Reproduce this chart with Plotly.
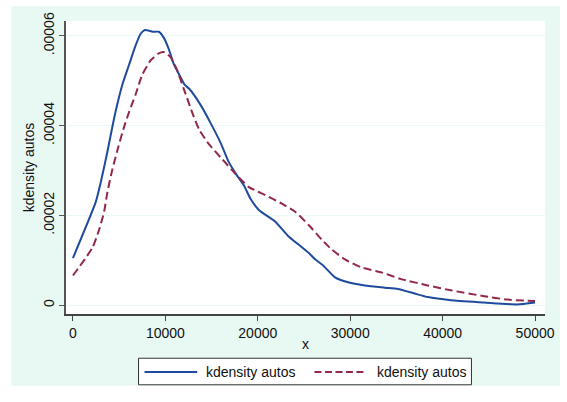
import plotly.graph_objects as go

# Kernel density estimates of autos (two bandwidths)
x_a = [0, 2470, 3010, 3760, 4270, 4620, 5340, 6060, 6770, 7310, 7780, 8640, 9280,
       9820, 10360, 10890, 11430, 12080, 12580, 13840, 14910, 15990, 16880,
       17780, 18490, 19210, 20110, 21900, 23330, 24410, 25480, 26200, 27100,
       28350, 29780, 31580, 33730, 35160, 36950, 38390, 40900, 44480, 48060, 50000]
y_a = [1.05e-5, 2.30e-5, 2.74e-5, 3.45e-5, 3.98e-5, 4.32e-5, 4.91e-5, 5.35e-5, 5.78e-5,
       6.04e-5, 6.13e-5, 6.09e-5, 6.09e-5, 5.96e-5, 5.71e-5, 5.38e-5, 5.16e-5,
       4.91e-5, 4.82e-5, 4.45e-5, 4.05e-5, 3.61e-5, 3.18e-5, 2.88e-5, 2.67e-5,
       2.37e-5, 2.12e-5, 1.86e-5, 1.53e-5, 1.35e-5, 1.17e-5, 1.02e-5, 8.8e-6,
       6.2e-6, 5.1e-6, 4.4e-6, 3.9e-6, 3.6e-6, 2.6e-6, 1.8e-6, 1.1e-6, 6e-7,
       1.5e-7, 6e-7]

x_b = [0, 2110, 2830, 3370, 3730, 4270, 4900, 5500, 6100, 6770, 7490, 8390,
       9280, 9820, 10540, 11260, 11970, 12940, 13660, 14730, 16160, 17600,
       19030, 20830, 22610, 24050, 25480, 26920, 27990, 29430, 31220, 33370,
       35520, 38390, 40900, 44480, 46990, 50000]
y_b = [6.6e-6, 1.28e-5, 1.68e-5, 2.08e-5, 2.52e-5, 3.03e-5, 3.52e-5, 3.95e-5,
       4.32e-5, 4.69e-5, 5.13e-5, 5.45e-5, 5.61e-5, 5.64e-5, 5.53e-5, 5.24e-5,
       4.83e-5, 4.27e-5, 3.91e-5, 3.58e-5, 3.25e-5, 2.92e-5, 2.63e-5, 2.45e-5,
       2.26e-5, 2.08e-5, 1.79e-5, 1.46e-5, 1.24e-5, 1.02e-5, 8.4e-6, 7.3e-6,
       5.8e-6, 4.4e-6, 3.3e-6, 2.0e-6, 1.25e-6, 9e-7]

x_ticks = [0, 10000, 20000, 30000, 40000, 50000]
y_ticks = [0, 0.00002, 0.00004, 0.00006]
y_ticklabels = ["0", ".00002", ".00004", ".00006"]
series_names = ["kdensity autos", "kdensity autos"]

BLUE = "#1f4b9e"
MAROON = "#92284a"
MINT = "#e8f8f3"
FONT = "Liberation Sans, Arial, sans-serif"

W, H = 567, 402
ML, MR, MT, MB = 66, 19, 16, 88
PW, PH = W - ML - MR, H - MT - MB


def px_x(p):
    return (p - ML) / PW


def px_y(p):
    return (H - MB - p) / PH


fig = go.Figure()
fig.add_trace(go.Scatter(x=x_a, y=y_a, mode="lines", name=series_names[0],
                         line=dict(color=BLUE, width=2, shape="spline", smoothing=0.5)))
fig.add_trace(go.Scatter(x=x_b, y=y_b, mode="lines", name=series_names[1],
                         line=dict(color=MAROON, width=2, dash="8px,4px",
                                   shape="spline", smoothing=0.5)))

shapes = [
    # graph region and white plot region
    dict(type="rect", xref="paper", yref="paper", layer="below",
         x0=px_x(11), x1=px_x(563), y0=px_y(387), y1=px_y(1),
         fillcolor=MINT, line=dict(width=0)),
    dict(type="rect", xref="paper", yref="paper", layer="below",
         x0=0, x1=1, y0=0, y1=1, fillcolor="white", line=dict(width=0)),
    # legend box
    dict(type="rect", xref="paper", yref="paper",
         x0=px_x(139), x1=px_x(474), y0=px_y(386), y1=px_y(359),
         fillcolor="white", line=dict(color="#333333", width=1)),
    dict(type="line", xref="paper", yref="paper",
         x0=px_x(145), x1=px_x(198), y0=px_y(373), y1=px_y(373),
         line=dict(color=BLUE, width=2)),
    dict(type="line", xref="paper", yref="paper",
         x0=px_x(316), x1=px_x(367), y0=px_y(373), y1=px_y(373),
         line=dict(color=MAROON, width=2, dash="7px,3.5px")),
]

annotations = [
    dict(xref="paper", yref="paper", x=px_x(205), y=px_y(373), text=series_names[0],
         showarrow=False, xanchor="left", yanchor="middle",
         font=dict(family=FONT, size=14, color="#111111")),
    dict(xref="paper", yref="paper", x=px_x(377), y=px_y(373), text=series_names[1],
         showarrow=False, xanchor="left", yanchor="middle",
         font=dict(family=FONT, size=14, color="#111111")),
]

fig.update_layout(
    width=W, height=H,
    margin=dict(l=ML, r=MR, t=MT, b=MB),
    paper_bgcolor="white",
    plot_bgcolor="rgba(0,0,0,0)",
    showlegend=False,
    font=dict(family=FONT, size=14, color="#111111"),
    shapes=shapes,
    annotations=annotations,
)

fig.update_xaxes(
    range=[-753, 51075], tickvals=x_ticks, ticktext=[str(v) for v in x_ticks],
    showgrid=False, zeroline=False,
    showline=True, linecolor="#444444", linewidth=1.5,
    ticks="outside", ticklen=5, tickcolor="#444444",
    title=dict(text="x", standoff=0, font=dict(size=14)),
    tickfont=dict(size=14),
)
fig.update_yaxes(
    range=[-1.97e-6, 6.33e-5], tickvals=y_ticks, ticktext=y_ticklabels,
    tickangle=-90,
    showgrid=True, gridcolor=MINT, gridwidth=1, zeroline=False,
    showline=True, linecolor="#555555", linewidth=1.5,
    ticks="outside", ticklen=5, tickcolor="#555555",
    title=dict(text="kdensity autos", standoff=3, font=dict(size=14)),
    tickfont=dict(size=14),
)

fig.write_html("out.html")
